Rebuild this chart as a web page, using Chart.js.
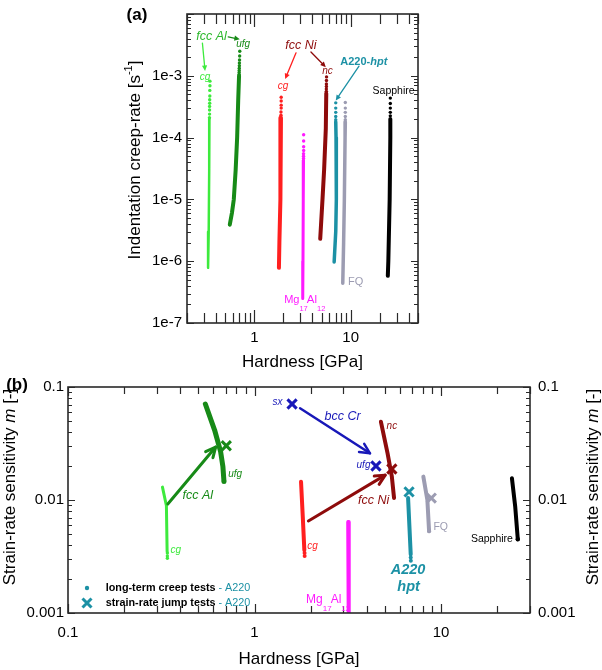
<!DOCTYPE html>
<html>
<head>
<meta charset="utf-8">
<script src="https://cdn.jsdelivr.net/npm/chart.js@4.4.1/dist/chart.umd.min.js"></script>
<style>
  body { margin: 0; background: #fff; }
  #wrap { position: relative; width: 602px; height: 670px; }
  canvas { position: absolute; left: 0; }
  #ca { top: 0; }
  #cb { top: 360px; }
</style>
</head>
<body>
<div id="wrap">
  <canvas id="ca" width="602" height="380"></canvas>
  <canvas id="cb" width="602" height="310"></canvas>
</div>
<script>
// ---- (a) indentation creep-rate vs hardness, pairs are [H in GPa, rate in 1/s]
// dots = sparse points at the start of each test, line = the dense tail
const alCgDotsA = [[0.346, 8.2e-4], [0.346, 6.9e-4], [0.345, 5.8e-4], [0.345, 4.7e-4], [0.344, 4.1e-4], [0.344, 3.6e-4], [0.343, 3.2e-4], [0.343, 2.8e-4], [0.343, 2.4e-4], [0.342, 2.1e-4]];
const alCgLineA = [[0.342, 2.0e-4], [0.340, 3e-5], [0.336, 3e-6], [0.331, 7.8e-7]];
const alUfgDotsA = [[0.706, 2.5e-3], [0.704, 2.09e-3], [0.702, 1.81e-3], [0.700, 1.61e-3], [0.699, 1.46e-3], [0.698, 1.33e-3], [0.697, 1.22e-3], [0.696, 1.13e-3], [0.695, 1.05e-3]];
const alUfgLineA = [[0.694, 1.0e-3], [0.68, 4e-4], [0.663, 1e-4], [0.64, 3e-5], [0.612, 1e-5], [0.585, 6e-6], [0.556, 3.9e-6]];
const niCgDotsA = [[1.90, 4.5e-4], [1.90, 3.9e-4], [1.90, 3.35e-4], [1.90, 3.0e-4], [1.89, 2.6e-4], [1.89, 2.3e-4]];
const niCgLineA = [[1.89, 2.1e-4], [1.88, 1e-4], [1.85, 1e-5], [1.82, 2e-6], [1.80, 7.8e-7]];
const niNcDotsA = [[5.62, 9.6e-4], [5.61, 8.4e-4], [5.60, 7.4e-4], [5.60, 6.7e-4], [5.59, 6.1e-4], [5.59, 5.6e-4]];
const niNcLineA = [[5.58, 5.2e-4], [5.52, 1.4e-4], [5.3, 3e-5], [5.1, 1e-5], [4.83, 2.3e-6]];
const a220DotsA = [[7.0, 3.65e-4], [7.0, 3.0e-4], [7.0, 2.56e-4], [7.0, 2.2e-4], [7.0, 1.95e-4]];
const a220LineA = [[7.0, 1.8e-4], [7.05, 1e-4], [7.1, 1e-5], [7.0, 3e-6], [6.74, 9.7e-7]];
const fqDotsA = [[8.8, 3.7e-4], [8.8, 3.0e-4], [8.8, 2.56e-4], [8.8, 2.2e-4], [8.8, 1.95e-4]];
const fqLineA = [[8.8, 1.8e-4], [8.75, 1e-4], [8.6, 1e-5], [8.45, 2e-6], [8.28, 4.4e-7]];
const sapphDotsA = [[25.8, 4.36e-4], [25.8, 3.57e-4], [25.8, 3.0e-4], [25.8, 2.56e-4], [25.8, 2.25e-4]];
const sapphLineA = [[25.8, 2.0e-4], [25.8, 1e-4], [25.4, 1e-5], [24.6, 1e-6], [24.3, 5.8e-7]];
const mgDotsA = [[3.25, 1.11e-4], [3.25, 8.8e-5], [3.25, 7.1e-5], [3.25, 6.2e-5], [3.24, 5.5e-5], [3.24, 5.0e-5], [3.24, 4.6e-5]];
const mgLineA = [[3.24, 4.3e-5], [3.22, 1e-5], [3.2, 1e-6], [3.18, 2.5e-7]];

// ---- (b) strain-rate sensitivity m vs hardness, pairs are [H in GPa, m]
const alCgLineB = [[0.321, 0.0130], [0.337, 0.0089], [0.340, 0.0035]];
const alCgDotsB = [[0.341, 0.0034], [0.341, 0.0032], [0.341, 0.00305]];
const alUfgLineB = [[0.545, 0.0707], [0.611, 0.0416], [0.658, 0.0268], [0.677, 0.0197], [0.685, 0.0150]];
const alUfgDotsB = [[0.686, 0.0146]];
const niCgLineB = [[1.776, 0.0145], [1.815, 0.0071], [1.85, 0.0036]];
const niCgDotsB = [[1.855, 0.0034], [1.857, 0.0032]];
const niNcLineB = [[4.76, 0.0493], [5.17, 0.0259], [5.45, 0.0161], [5.60, 0.0104]];
const mgLineB = [[3.18, 0.0064], [3.20, 0.0009]];
const a220LineB = [[6.66, 0.0104], [6.88, 0.0033]];
const a220DotsB = [[6.88, 0.0031], [6.89, 0.0029]];
const fqLineB = [[8.04, 0.0161], [8.45, 0.0100], [8.63, 0.0053]];
const fqDotsB = [[8.63, 0.0053]];
const sapphLineB = [[24.0, 0.0156], [25.0, 0.0087], [25.8, 0.0045]];
const sapphDotsB = [[25.8, 0.0045]];
// strain-rate jump tests (crosses)
const jumpAlB = [[0.706, 0.0302]];
const jumpCrB = [[1.59, 0.0707], [4.48, 0.0200]];
const jumpNiB = [[5.45, 0.0188]];
const jumpA220B = [[6.74, 0.0118]];
const jumpFqB = [[8.87, 0.0104]];

// ---- tick labels (decades only)
const hardDecA = [1, 10], hardLabA = ['1', '10'];
const rateDecA = [1e-7, 1e-6, 1e-5, 1e-4, 1e-3], rateLabA = ['1e-7', '1e-6', '1e-5', '1e-4', '1e-3'];
const hardDecB = [0.1, 1, 10], hardLabB = ['0.1', '1', '10'];
const mDecB = [0.001, 0.01, 0.1], mLabB = ['0.001', '0.01', '0.1'];

// colours
const LIME = '#3dea3d', GREEN = '#178a17', RED = '#ff1f1f', DRED = '#8e0b0b', TEAL = '#1c91a5',
      GREY = '#9c9cb2', MAG = '#ff1aff', BLUE = '#1818b8', BLACK = '#000';
const FONT = '"Liberation Sans", Arial, sans-serif';
const F = (size, style) => `${style || ''} ${size}px ${FONT}`;

const pts = a => a.map(([x, y]) => ({ x, y }));
const lineSet = (a, c, w) => ({ data: pts(a), showLine: true, borderColor: c, borderWidth: w, pointRadius: 0,
  borderCapStyle: 'round', borderJoinStyle: 'round' });
const dotSet = (a, c, r) => ({ data: pts(a), showLine: false, pointRadius: r || 1.7, pointBackgroundColor: c,
  backgroundColor: c, pointBorderWidth: 0 });
const crossSet = (a, c) => ({ data: pts(a), showLine: false, pointStyle: 'crossRot', pointRadius: 6.5,
  pointBorderColor: c, borderColor: c, pointBorderWidth: 3 });

// log ticks 1..9 x 10^n, built here so the library does not add 1.5 steps
function logTicks(min, max) {
  const out = [];
  for (let e = Math.floor(Math.log10(min)); e <= Math.ceil(Math.log10(max)); e++) {
    for (let k = 1; k < 10; k++) {
      const v = Number((k * Math.pow(10, e)).toPrecision(3));
      if (v >= min * 0.999 && v <= max * 1.001) out.push({ value: v });
    }
  }
  return out;
}
const isDec = v => Math.abs(Math.log10(v) - Math.round(Math.log10(v))) < 1e-6;
const labelFor = (decs, labs) => v => {
  const i = decs.findIndex(d => Math.abs(d - v) / d < 1e-6);
  return i < 0 ? '' : labs[i];
};

// frame with inward ticks on all four sides
function makeFrame(o) {
  return {
    id: 'frame',
    afterDatasetsDraw(chart) {
      const { ctx, chartArea: a } = chart;
      const xs = chart.scales.x, ys = chart.scales.y;
      ctx.save();
      ctx.strokeStyle = '#2a2a2a';
      ctx.lineWidth = 1.2;
      ctx.beginPath();
      xs.ticks.forEach(t => {
        const p = Math.round(xs.getPixelForValue(t.value)) + 0.5;
        const l = isDec(t.value) ? o.xMajor : o.xMinor;
        ctx.moveTo(p, a.bottom); ctx.lineTo(p, a.bottom - l);
        ctx.moveTo(p, a.top); ctx.lineTo(p, a.top + l);
      });
      ys.ticks.forEach(t => {
        const p = Math.round(ys.getPixelForValue(t.value)) + 0.5;
        const l = isDec(t.value) ? o.yMajor : o.yMinor;
        ctx.moveTo(a.left, p); ctx.lineTo(a.left + l, p);
        ctx.moveTo(a.right, p); ctx.lineTo(a.right - l, p);
      });
      ctx.stroke();
      ctx.lineWidth = 1.6;
      ctx.strokeRect(a.left, a.top, a.right - a.left, a.bottom - a.top);
      ctx.restore();
    }
  };
}

function drawRich(ctx, x, y, parts, align, rot) {
  ctx.save();
  ctx.translate(x, y);
  if (rot) ctx.rotate(rot);
  ctx.textBaseline = 'middle';
  ctx.textAlign = 'left';
  const w = parts.map(p => { ctx.font = p.f; return ctx.measureText(p.t).width + (p.dx || 0); });
  const total = w.reduce((s, v) => s + v, 0);
  let cx = align === 'center' ? -total / 2 : align === 'right' ? -total : 0;
  parts.forEach((p, i) => {
    ctx.font = p.f;
    ctx.fillStyle = p.c;
    ctx.fillText(p.t, cx + (p.dx || 0), p.dy || 0);
    cx += w[i];
  });
  ctx.restore();
}

function drawArrow(ctx, x1, y1, x2, y2, a) {
  const ang = Math.atan2(y2 - y1, x2 - x1);
  const h = a.head, s = 0.45;
  ctx.strokeStyle = a.c; ctx.fillStyle = a.c;
  ctx.lineWidth = a.w; ctx.lineCap = 'round'; ctx.lineJoin = 'round';
  ctx.beginPath();
  ctx.moveTo(x1, y1);
  ctx.lineTo(a.filled ? x2 - Math.cos(ang) * h * 0.8 : x2, a.filled ? y2 - Math.sin(ang) * h * 0.8 : y2);
  ctx.stroke();
  ctx.beginPath();
  ctx.moveTo(x2 - h * Math.cos(ang - s), y2 - h * Math.sin(ang - s));
  ctx.lineTo(x2, y2);
  ctx.lineTo(x2 - h * Math.cos(ang + s), y2 - h * Math.sin(ang + s));
  if (a.filled) { ctx.closePath(); ctx.fill(); } else ctx.stroke();
}

// labels, arrows and legend; "at" is in data units, "px" in canvas pixels
function makeNotes(o) {
  return {
    id: 'notes',
    afterDatasetsDraw(chart) {
      const { ctx } = chart;
      const xs = chart.scales.x, ys = chart.scales.y;
      ctx.save();
      o.arrows.forEach(a => drawArrow(ctx,
        xs.getPixelForValue(a.from[0]), ys.getPixelForValue(a.from[1]),
        xs.getPixelForValue(a.to[0]), ys.getPixelForValue(a.to[1]), a));
      o.texts.forEach(t => {
        const x = t.px ? t.px[0] : xs.getPixelForValue(t.at[0]);
        const y = t.px ? t.px[1] : ys.getPixelForValue(t.at[1]);
        drawRich(ctx, x, y, t.parts, t.align || 'center', t.rot);
      });
      (o.marks || []).forEach(m => {
        ctx.strokeStyle = m.c; ctx.fillStyle = m.c;
        if (m.kind === 'dot') {
          ctx.beginPath(); ctx.arc(m.px[0], m.px[1], 2.2, 0, Math.PI * 2); ctx.fill();
        } else {
          ctx.lineWidth = 3; ctx.lineCap = 'butt';
          ctx.beginPath();
          ctx.moveTo(m.px[0] - 4.5, m.px[1] - 4.5); ctx.lineTo(m.px[0] + 4.5, m.px[1] + 4.5);
          ctx.moveTo(m.px[0] - 4.5, m.px[1] + 4.5); ctx.lineTo(m.px[0] + 4.5, m.px[1] - 4.5);
          ctx.stroke();
        }
      });
      ctx.restore();
    }
  };
}

const P = (t, f, c, dy, dx) => ({ t, f, c, dy, dx });

const notesA = {
  arrows: [
    { from: [0.289, 3.39e-3], to: [0.308, 1.2e-3], c: LIME, w: 1.3, head: 6, filled: true },
    { from: [0.536, 4.25e-3], to: [0.706, 3.91e-3], c: GREEN, w: 1.3, head: 6, filled: true },
    { from: [2.71, 2.35e-3], to: [2.09, 8.9e-4], c: RED, w: 1.3, head: 6, filled: true },
    { from: [3.87, 2.43e-3], to: [5.52, 1.38e-3], c: DRED, w: 1.3, head: 6, filled: true },
    { from: [12.2, 1.43e-3], to: [7.0, 4.0e-4], c: TEAL, w: 1.3, head: 6, filled: true }
  ],
  texts: [
    { px: [137, 15], parts: [P('(a)', F(17, 'bold'), BLACK)] },
    { px: [135, 160], rot: -Math.PI / 2, parts: [P('Indentation creep-rate [s', F(17), BLACK),
        P('-1', F(11), BLACK, -6), P(']', F(17), BLACK)] },
    { at: [0.360, 4.26e-3], parts: [P('fcc Al', F(12.5, 'italic'), '#2cb82c')] },
    { at: [0.307, 9.4e-4], parts: [P('cg', F(10, 'italic'), LIME)] },
    { at: [0.765, 3.2e-3], parts: [P('ufg', F(10, 'italic'), GREEN)] },
    { at: [3.05, 3.09e-3], parts: [P('fcc Ni', F(12.5, 'italic'), DRED)] },
    { at: [1.98, 6.76e-4], parts: [P('cg', F(10, 'italic'), RED)] },
    { at: [5.75, 1.2e-3], parts: [P('nc', F(10, 'italic'), DRED)] },
    { at: [13.7, 1.66e-3], parts: [P('A220-', F(11, 'bold'), TEAL), P('hpt', F(11, 'italic bold'), TEAL)] },
    { at: [27.9, 5.66e-4], parts: [P('Sapphire', F(10.5), BLACK)] },
    { at: [9.38, 4.64e-7], align: 'left', parts: [P('FQ', F(11), GREY)] },
    { at: [2.04, 2.33e-7], align: 'left', parts: [P('Mg', F(11), MAG), P('17', F(7.5), MAG, 9),
        P('Al', F(11.5), MAG, 0, -1), P('12', F(7.5), MAG, 9)] }
  ]
};

const notesB = {
  arrows: [
    { from: [0.343, 0.00922], to: [0.619, 0.0294], c: GREEN, w: 3, head: 11 },
    { from: [1.755, 0.0648], to: [4.16, 0.0259], c: BLUE, w: 2.5, head: 11 },
    { from: [1.945, 0.00652], to: [5.02, 0.0166], c: DRED, w: 3, head: 11 }
  ],
  texts: [
    { px: [17, 25], parts: [P('(b)', F(17, 'bold'), BLACK)] },
    { px: [10, 127], rot: -Math.PI / 2, parts: [P('Strain-rate sensitivity ', F(17), BLACK),
        P('m', F(17, 'italic'), BLACK), P(' [-]', F(17), BLACK)] },
    { px: [593, 127], rot: -Math.PI / 2, parts: [P('Strain-rate sensitivity ', F(17), BLACK),
        P('m', F(17, 'italic'), BLACK), P(' [-]', F(17), BLACK)] },
    { at: [0.496, 0.0109], parts: [P('fcc Al', F(12.5, 'italic'), GREEN)] },
    { at: [0.788, 0.017], parts: [P('ufg', F(10, 'italic'), GREEN)] },
    { at: [0.378, 0.00356], parts: [P('cg', F(10, 'italic'), LIME)] },
    { at: [1.33, 0.0736], parts: [P('sx', F(10, 'italic'), BLUE)] },
    { at: [2.97, 0.0546], parts: [P('bcc Cr', F(12.5, 'italic'), BLUE)] },
    { at: [3.84, 0.0204], parts: [P('ufg', F(10, 'italic'), BLUE)] },
    { at: [5.45, 0.0446], parts: [P('nc', F(10, 'italic'), DRED)] },
    { at: [4.35, 0.00986], parts: [P('fcc Ni', F(12.5, 'italic'), DRED)] },
    { at: [2.05, 0.00392], parts: [P('cg', F(10, 'italic'), RED)] },
    { at: [1.89, 0.00132], align: 'left', parts: [P('Mg', F(12), MAG), P('17', F(8), MAG, 9),
        P('Al', F(12), MAG, 0, -1), P('12', F(8), MAG, 9)] },
    { at: [6.66, 0.0024], parts: [P('A220', F(14.5, 'italic bold'), TEAL)] },
    { at: [6.7, 0.0017], parts: [P('hpt', F(14.5, 'italic bold'), TEAL)] },
    { at: [9.96, 0.0058], parts: [P('FQ', F(10.5), GREY)] },
    { at: [24.3, 0.00447], align: 'right', parts: [P('Sapphire', F(10.5), BLACK)] },
    { px: [105.7, 228], align: 'left', parts: [P('long-term creep tests', F(10.8, 'bold'), BLACK),
        P(' - A220', F(10.8), TEAL)] },
    { px: [105.7, 243], align: 'left', parts: [P('strain-rate jump tests', F(10.8, 'bold'), BLACK),
        P(' - A220', F(10.8), TEAL)] }
  ],
  marks: [
    { kind: 'dot', px: [87, 228], c: TEAL },
    { kind: 'cross', px: [87, 243], c: TEAL }
  ]
};

const logAxis = (min, max, labels, pad, extra) => Object.assign({
  type: 'logarithmic', min, max,
  grid: { display: false, drawTicks: false }, border: { display: false },
  afterBuildTicks: s => { s.ticks = logTicks(min, max); },
  ticks: { callback: labels, autoSkip: false, maxRotation: 0, padding: pad,
           color: '#000', font: { family: FONT, size: 15 } }
}, extra);

// ================= panel (a)
new Chart(document.getElementById('ca'), {
  type: 'scatter',
  data: {
    datasets: [
      lineSet(alCgLineA, LIME, 2.5), dotSet(alCgDotsA, LIME),
      lineSet(alUfgLineA, GREEN, 4), dotSet(alUfgDotsA, GREEN),
      lineSet(niCgLineA, RED, 4), dotSet(niCgDotsA, RED),
      lineSet(niNcLineA, DRED, 4), dotSet(niNcDotsA, DRED),
      lineSet(mgLineA, MAG, 3), dotSet(mgDotsA, MAG),
      lineSet(a220LineA, TEAL, 3.5), dotSet(a220DotsA, TEAL),
      lineSet(fqLineA, GREY, 3.5), dotSet(fqDotsA, GREY),
      lineSet(sapphLineA, BLACK, 4), dotSet(sapphDotsA, BLACK)
    ]
  },
  options: {
    responsive: false,
    animation: false,
    layout: { padding: { left: 0, right: 184, top: 3, bottom: 0 } },
    scales: {
      x: logAxis(0.2, 50, labelFor(hardDecA, hardLabA), 6, {
        title: { display: true, text: 'Hardness [GPa]', color: '#000', font: { family: FONT, size: 17 },
                 padding: { top: 0, bottom: 7 } },
        afterFit: s => { s.height = 57; }
      }),
      y: logAxis(1e-7, 1e-2, labelFor(rateDecA, rateLabA), 5, {
        afterFit: s => { s.width = 187; }
      })
    },
    plugins: { legend: { display: false }, tooltip: { enabled: false } }
  },
  plugins: [makeFrame({ xMajor: 13, xMinor: 10, yMajor: 7, yMinor: 4 }), makeNotes(notesA)]
});

// ================= panel (b)
new Chart(document.getElementById('cb'), {
  type: 'scatter',
  data: {
    datasets: [
      lineSet(alCgLineB, LIME, 3), dotSet(alCgDotsB, LIME),
      lineSet(alUfgLineB, GREEN, 5), dotSet(alUfgDotsB, GREEN, 2.5),
      lineSet(niCgLineB, RED, 4), dotSet(niCgDotsB, RED, 2),
      lineSet(niNcLineB, DRED, 4),
      lineSet(mgLineB, MAG, 4),
      lineSet(a220LineB, TEAL, 4), dotSet(a220DotsB, TEAL, 2),
      lineSet(fqLineB, GREY, 4), dotSet(fqDotsB, GREY, 2),
      lineSet(sapphLineB, BLACK, 4), dotSet(sapphDotsB, BLACK, 2.2),
      crossSet(jumpAlB, GREEN), crossSet(jumpCrB, BLUE), crossSet(jumpNiB, DRED),
      crossSet(jumpA220B, TEAL), crossSet(jumpFqB, GREY)
    ]
  },
  options: {
    responsive: false,
    animation: false,
    layout: { padding: { left: 0, right: 0, top: 27, bottom: 0 } },
    scales: {
      x: logAxis(0.1, 30, labelFor(hardDecB, hardLabB), 11, {
        title: { display: true, text: 'Hardness [GPa]', color: '#000', font: { family: FONT, size: 17 },
                 padding: { top: 0, bottom: 0 } },
        afterFit: s => { s.height = 57; }
      }),
      y: logAxis(0.001, 0.1, labelFor(mDecB, mLabB), 4, {
        position: 'left',
        afterFit: s => { s.width = 68; }
      }),
      y2: logAxis(0.001, 0.1, labelFor(mDecB, mLabB), 8, {
        position: 'right',
        afterFit: s => { s.width = 72; }
      })
    },
    plugins: { legend: { display: false }, tooltip: { enabled: false } }
  },
  plugins: [makeFrame({ xMajor: 9, xMinor: 7, yMajor: 7, yMinor: 4 }), makeNotes(notesB)]
});
</script>
</body>
</html>
